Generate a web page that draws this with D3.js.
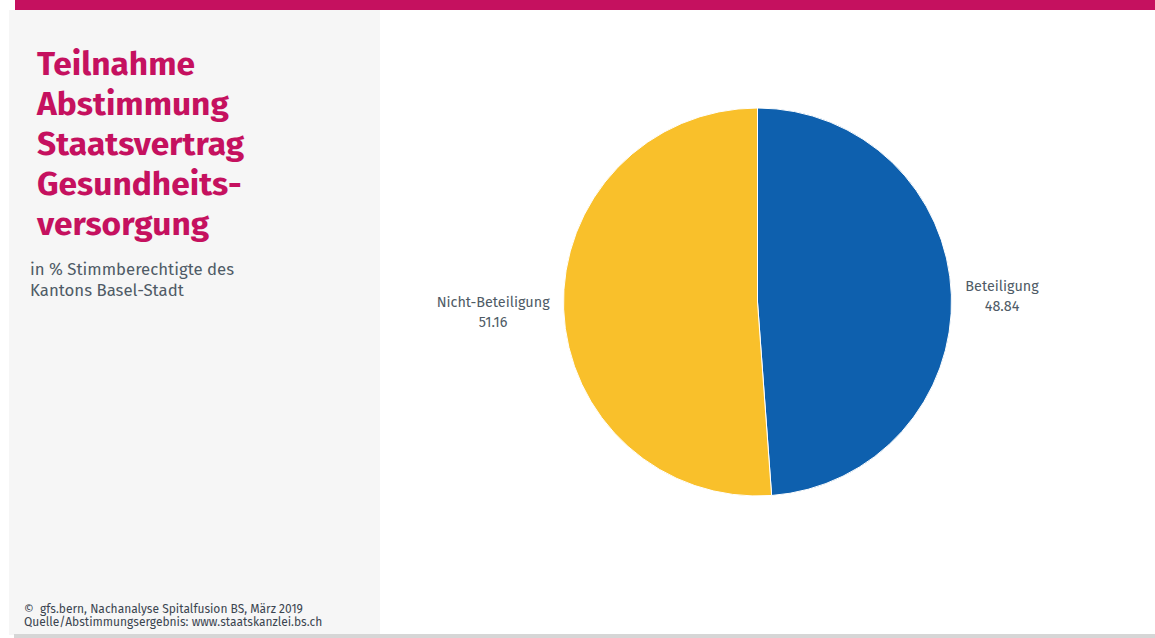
<!DOCTYPE html>
<html>
<head>
<meta charset="utf-8">
<script src="https://cdn.jsdelivr.net/npm/d3@7"></script>
<style>
  html, body { margin: 0; padding: 0; background: #ffffff; }
  svg { display: block; }
</style>
</head>
<body>
<svg id="chart" width="1155" height="638"></svg>
<script>
// Participation in the vote, share of eligible voters (%)
const categories = ["Beteiligung", "Nicht-Beteiligung"];
const values = [48.84, 51.16];
const colors = ["#0e60ae", "#f9c02b"];

const titleLines = ["Teilnahme", "Abstimmung", "Staatsvertrag", "Gesundheits-", "versorgung"];
const subtitleLines = ["in % Stimmberechtigte des", "Kantons Basel-Stadt"];
const footerLines = ["\u00a9\u00a0\u00a0gfs.bern, Nachanalyse Spitalfusion BS, M\u00e4rz 2019",
                     "Quelle/Abstimmungsergebnis: www.staatskanzlei.bs.ch"];

const font = "'Fira Sans', 'Open Sans', 'Noto Sans', sans-serif";
const svg = d3.select("#chart");

// Frame: left panel, top accent bar, bottom rule
svg.append("rect").attr("x", 9).attr("y", 10).attr("width", 371).attr("height", 625).attr("fill", "#f6f6f6");
svg.append("rect").attr("x", 15).attr("y", 0).attr("width", 1140).attr("height", 10).attr("fill", "#c5115f");
svg.append("rect").attr("x", 14).attr("y", 634).attr("width", 1141).attr("height", 4).attr("fill", "#d6d6d6");

// Title
svg.append("g").selectAll("text").data(titleLines).join("text")
  .attr("x", 37).attr("y", (d, i) => 75 + i * 40)
  .attr("font-family", font).attr("font-weight", 700).attr("font-size", 33.5)
  .attr("fill", "#c5115f").text(d => d);

// Subtitle
svg.append("g").selectAll("text").data(subtitleLines).join("text")
  .attr("x", 30).attr("y", (d, i) => 275 + i * 21)
  .attr("font-family", font).attr("font-size", 16.8)
  .attr("fill", "#4f5b66").text(d => d);

// Footer
svg.append("g").selectAll("text").data(footerLines).join("text")
  .attr("x", 24).attr("y", (d, i) => 613 + i * 13)
  .attr("font-family", font).attr("font-size", 12)
  .attr("fill", "#3b4550").text(d => d);

// Pie
const cx = 757.5, cy = 302, r = 194;
const data = categories.map((c, i) => ({ name: c, value: values[i], color: colors[i] }));
const pie = d3.pie().value(d => d.value).sort(null);
const arc = d3.arc().innerRadius(0).outerRadius(r);
const arcs = pie(data);

const g = svg.append("g").attr("transform", `translate(${cx},${cy})`);
g.selectAll("path").data(arcs).join("path")
  .attr("d", arc)
  .attr("fill", d => d.data.color)
  .attr("stroke", "#ffffff").attr("stroke-width", 1);

// Labels outside each slice, two lines centred within their block
const labelGap = 14;
arcs.forEach(a => {
  const mid = (a.startAngle + a.endAngle) / 2;
  const px = Math.sin(mid) * (r + labelGap);
  const py = -Math.cos(mid) * (r + labelGap);
  const right = Math.sin(mid) >= 0;
  const lg = g.append("g");
  const lines = [a.data.name, d3.format(".2f")(a.data.value)];
  const texts = lg.selectAll("text").data(lines).join("text")
    .attr("font-family", font).attr("font-size", 14.4)
    .attr("fill", "#4f5b66").attr("text-anchor", "middle")
    .text(d => d);
  const w = d3.max(texts.nodes(), n => n.getComputedTextLength());
  const bx = right ? px + w / 2 : px - w / 2;
  texts.attr("x", bx).attr("y", (d, i) => py - 3 + i * 20);
});
</script>
</body>
</html>
